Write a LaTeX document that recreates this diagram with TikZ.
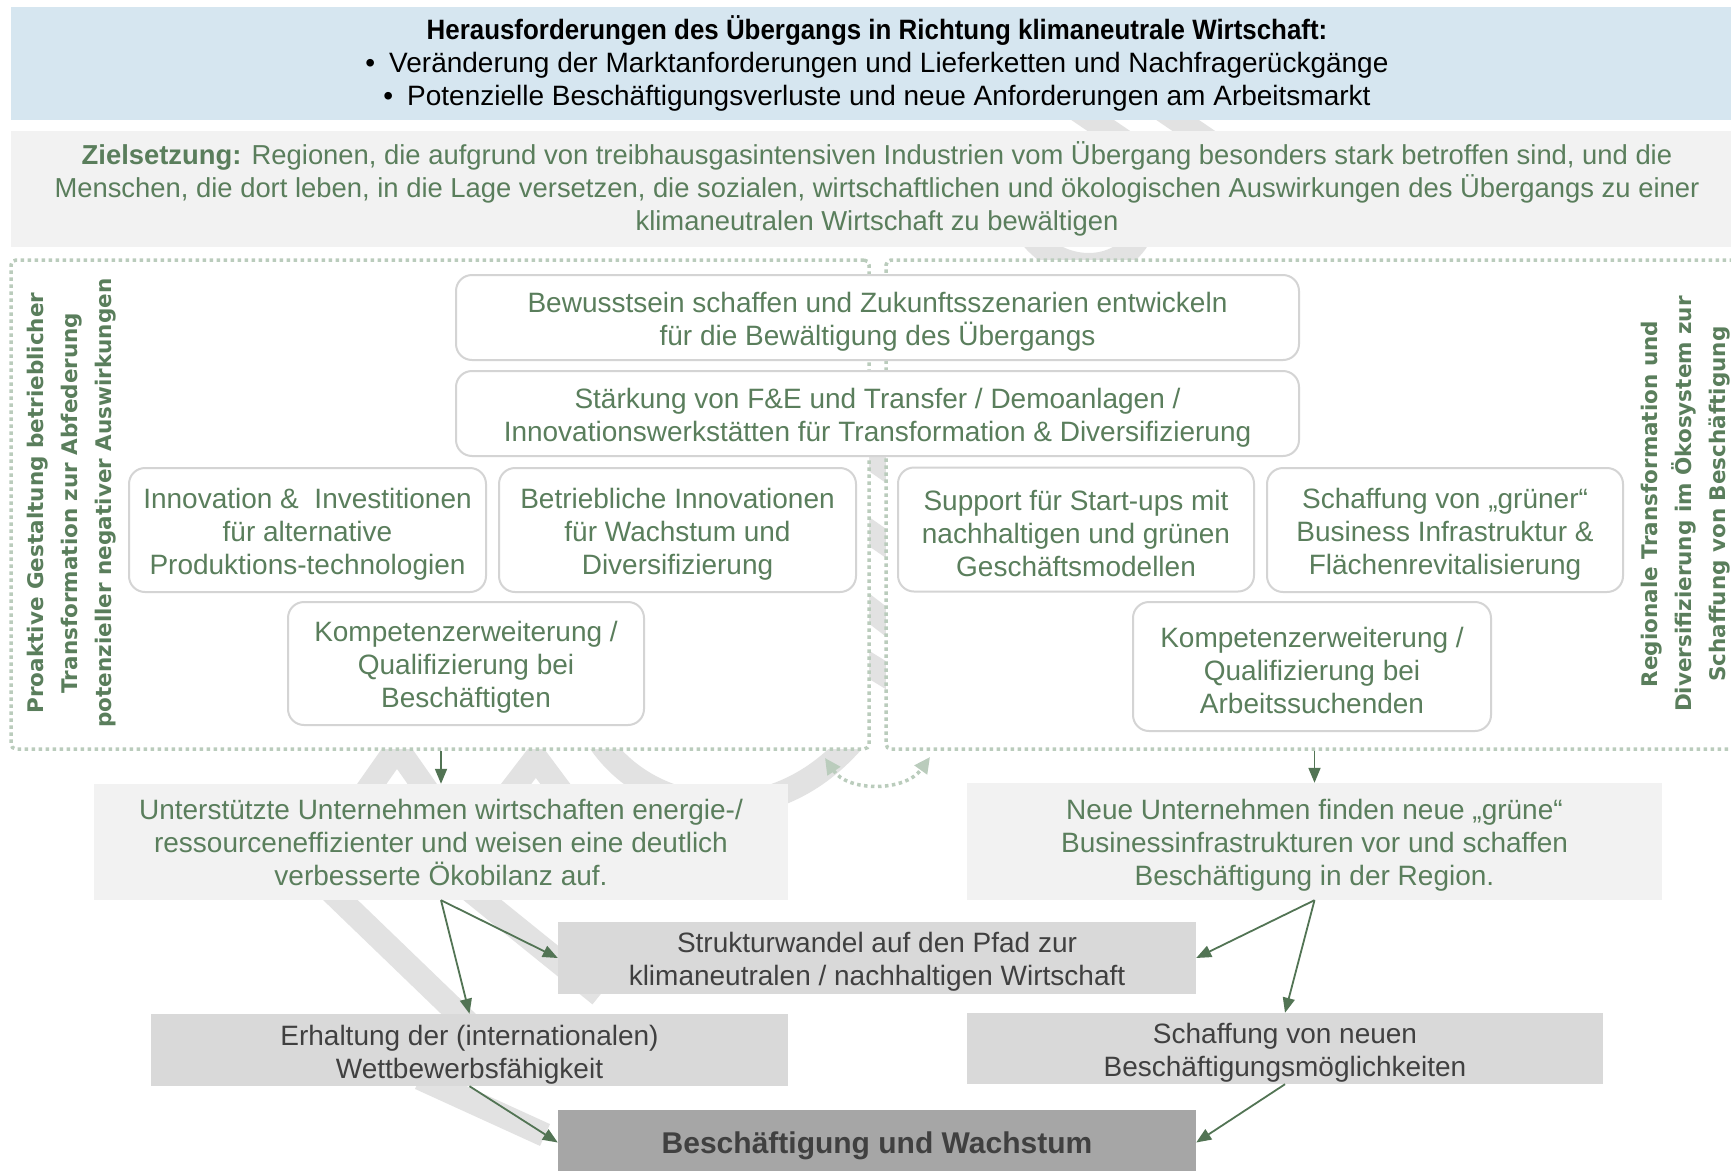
\documentclass[tikz,border=0pt]{standalone}
\usepackage{graphicx}
\usepackage{fontspec}
\setmainfont{Liberation Sans}
\newfontfamily\vlabfont{DejaVu Sans}
\usetikzlibrary{arrows.meta}
\definecolor{hdrblue}{RGB}{214,230,240}
\definecolor{lightgrey}{RGB}{242,242,242}
\definecolor{midgrey}{RGB}{217,217,217}
\definecolor{darkgrey}{RGB}{166,166,166}
\definecolor{tgreen}{RGB}{90,126,92}
\definecolor{agreen}{RGB}{82,116,84}
\definecolor{dotgreen}{RGB}{186,204,188}
\definecolor{boxline}{RGB}{212,212,212}
\definecolor{tdark}{RGB}{64,64,64}
\definecolor{wmgrey}{RGB}{226,226,226}
\newcommand{\ts}{\rule{0pt}{28.5pt}}
\tikzset{
  bodyfont/.style={font=\fontsize{28}{33}\selectfont},
  roundbox/.style={draw=boxline, line width=2pt, rounded corners=16pt, fill=white,
    text=tgreen, align=center, inner sep=0pt, bodyfont},
  flatbox/.style={draw=none, inner sep=0pt, align=center, bodyfont},
  framebox/.style={draw=dotgreen, fill=white, line width=3.5pt, dash pattern=on 3.5pt off 3.5pt,
    rounded corners=5pt, inner sep=0pt},
  vlabel/.style={rotate=90, align=center, text=tgreen, inner sep=0pt,
    font=\vlabfont\bfseries\fontsize{21.5}{34}\selectfont},
  arr/.style={draw=agreen, line width=1.8pt, -{Triangle[length=15pt,width=12pt]}},
  dotarr/.style={draw=dotgreen, line width=3.5pt, dash pattern=on 3.5pt off 3.5pt,
    {Triangle[length=16pt,width=15pt]}-{Triangle[length=16pt,width=15pt]}},
  wmstroke/.style={draw=wmgrey, line width=24pt}
}
\begin{document}
\begin{tikzpicture}[x=1pt,y=1pt]
\useasboundingbox (0,0) rectangle (1731,-1170);
\fill[white] (0,0) rectangle (1731,-1170);

% faint watermark strokes (mostly hidden behind the boxes)
\draw[wmstroke] (357,-805) -- (397,-748) -- (437,-805);
\draw[wmstroke] (500,-805) -- (536,-758) -- (571,-805);
\draw[wmstroke] (600,-742) .. controls (650,-815) and (770,-835) .. (852,-742);
\draw[wmstroke] (330,-890) -- (470,-1025);
\draw[wmstroke] (470,-890) -- (600,-995);
\draw[wmstroke] (420,-1078) -- (545,-1135);
\draw[wmstroke] (845,-440) -- (910,-485);
\draw[wmstroke] (845,-515) -- (910,-560);
\draw[wmstroke] (845,-590) -- (910,-640);
\draw[wmstroke] (845,-650) -- (910,-690);
\draw[wmstroke] (1075,-108) -- (1125,-142);
\draw[wmstroke] (1160,-108) -- (1210,-142);
\draw[wmstroke] (1030,-235) .. controls (1060,-275) and (1120,-275) .. (1140,-235);

% header
\node[flatbox, fill=hdrblue, text=black, minimum width=1732pt, minimum height=113pt] (hdr) at (877,-63.5)
  {\scalebox{0.925}[1]{\textbf{Herausforderungen des Übergangs in Richtung klimaneutrale Wirtschaft:}}\\
   \textbullet\hspace{14pt}Veränderung der Marktanforderungen und Lieferketten und Nachfragerückgänge\\
   \textbullet\hspace{14pt}Potenzielle Beschäftigungsverluste und neue Anforderungen am Arbeitsmarkt};

\node[flatbox, fill=lightgrey, text=tgreen, minimum width=1732pt, minimum height=116pt,
  font=\fontsize{27.4}{33}\selectfont] (ziel) at (877,-189)
  {\textbf{Zielsetzung:} Regionen, die aufgrund von treibhausgasintensiven Industrien vom Übergang besonders stark betroffen sind, und die\\
   Menschen, die dort leben, in die Lage versetzen, die sozialen, wirtschaftlichen und ökologischen Auswirkungen des Übergangs zu einer\\
   klimaneutralen Wirtschaft zu bewältigen};

% dotted frames
\node[framebox, minimum width=858pt, minimum height=489pt] (lframe) at (440,-504.5) {};
\node[framebox, minimum width=859pt, minimum height=489pt] (rframe) at (1315.5,-504.5) {};

% vertical labels
\node[vlabel] (llab) at (72,-503)
  {Proaktive Gestaltung betrieblicher\\Transformation zur Abfederung\\potenzieller negativer Auswirkungen};
\node[vlabel] (rlab) at (1686,-504)
  {Regionale Transformation und\\Diversifizierung im Ökosystem zur\\Schaffung von Beschäftigung};

% rounded boxes
\node[roundbox, minimum width=843pt, minimum height=85pt] (bew) at (877.5,-317.5)
  {\ts Bewusstsein schaffen und Zukunftsszenarien entwickeln\\für die Bewältigung des Übergangs};
\node[roundbox, minimum width=843pt, minimum height=85pt] (fue) at (877.5,-413.5)
  {\ts Stärkung von F\&E und Transfer / Demoanlagen /\\Innovationswerkstätten für Transformation \& Diversifizierung};
\node[roundbox, minimum width=357pt, minimum height=124pt] (inno) at (307.5,-530)
  {\ts Innovation \&\ \ Investitionen\\für alternative\\Produktions-technologien};
\node[roundbox, minimum width=357pt, minimum height=124pt] (betr) at (677.5,-530)
  {\ts Betriebliche Innovationen\\für Wachstum und\\Diversifizierung};
\node[roundbox, minimum width=356pt, minimum height=123pt] (kompl) at (466,-663.5)
  {\ts Kompetenzerweiterung /\\Qualifizierung bei\\Beschäftigten};
\node[roundbox, minimum width=356pt, minimum height=124pt] (supp) at (1076,-529.5)
  {\ts Support für Start-ups mit\\nachhaltigen und grünen\\Geschäftsmodellen};
\node[roundbox, minimum width=356pt, minimum height=124pt] (gruen) at (1445,-530)
  {\ts Schaffung von „grüner“\\Business Infrastruktur \&\\Flächenrevitalisierung};
\node[roundbox, minimum width=358pt, minimum height=129pt] (kompr) at (1312,-666.5)
  {\ts Kompetenzerweiterung /\\Qualifizierung bei\\Arbeitssuchenden};

% dotted double arrow between frames
\coordinate (da) at (825,-758);
\coordinate (db) at (930,-757);
\draw[dotarr] (da) .. controls (848,-792) and (905,-792) .. (db);

% lower boxes
\node[flatbox, fill=lightgrey, text=tgreen, minimum width=694pt, minimum height=116pt] (unt) at (441,-842)
  {Unterstützte Unternehmen wirtschaften energie-/\\ressourceneffizienter und weisen eine deutlich\\verbesserte Ökobilanz auf.};
\node[flatbox, fill=lightgrey, text=tgreen, minimum width=695pt, minimum height=117pt] (neue) at (1314.5,-841.5)
  {\ts Neue Unternehmen finden neue „grüne“\\Businessinfrastrukturen vor und schaffen\\Beschäftigung in der Region.};
\node[flatbox, fill=midgrey, text=tdark, minimum width=638pt, minimum height=72pt] (struk) at (877,-958)
  {\ts Strukturwandel auf den Pfad zur\\klimaneutralen / nachhaltigen Wirtschaft};
\node[flatbox, fill=midgrey, text=tdark, minimum width=637pt, minimum height=72pt] (erh) at (469.5,-1050)
  {\rule{0pt}{30pt}Erhaltung der (internationalen)\\Wettbewerbsfähigkeit};
\node[flatbox, fill=midgrey, text=tdark, minimum width=636pt, minimum height=71pt] (schaf) at (1285,-1048.5)
  {\ts Schaffung von neuen\\Beschäftigungsmöglichkeiten};
\node[flatbox, fill=darkgrey, text=tdark, minimum width=638pt, minimum height=65pt,
  font=\bfseries\fontsize{30}{36}\selectfont] (besch) at (877,-1142.5)
  {\rule{0pt}{29pt}Beschäftigung und Wachstum};

% connectors
\draw[arr] (unt.north |- lframe.south) -- (unt.north);
\draw[arr] (neue.north |- rframe.south) -- (neue.north);
\draw[arr] (unt.south) -- (struk.west);
\draw[arr] (unt.south) -- (erh.north);
\draw[arr] (neue.south) -- (struk.east);
\draw[arr] (neue.south) -- (schaf.north);
\draw[arr] (erh.south) -- (besch.west);
\draw[arr] (schaf.south) -- (besch.east);
\end{tikzpicture}
\end{document}
